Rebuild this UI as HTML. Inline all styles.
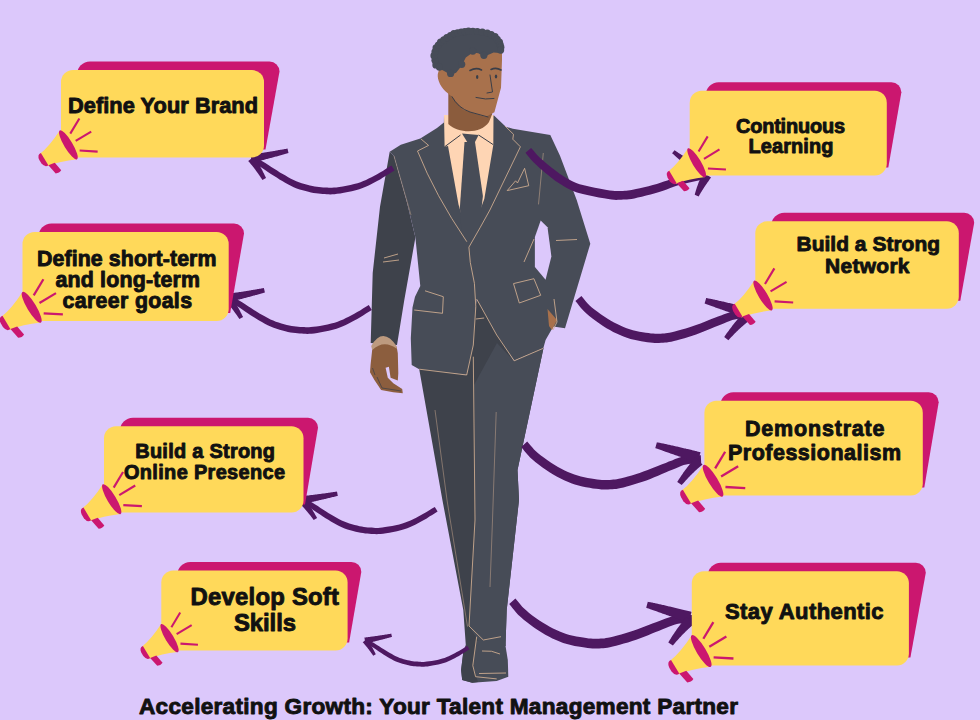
<!DOCTYPE html>
<html><head><meta charset="utf-8"><style>
html,body{margin:0;padding:0;background:#DCC8FB;width:980px;height:720px;overflow:hidden}
svg{display:block}
text{font-family:"Liberation Sans",sans-serif;font-weight:bold;fill:#111;stroke:#111;stroke-width:0.9px;stroke-linejoin:round}
</style></head><body>
<svg width="980" height="720" viewBox="0 0 980 720">
<rect width="980" height="720" fill="#DCC8FB"/>
<g id="man">
<!-- pants back (dark) -->
<path fill="#3E424B" d="M476.7,299 L514,361 L543.5,348 L517.5,470 L519,500 L506.7,610 L505.5,646 L466,648 L463.3,610 L442.4,500 L419,368 L466.7,375 Z"/>
<!-- pants front (light) -->
<path fill="#474C57" d="M497,343 L514,361 L543.5,348 L517.5,470 L519,500 L506.7,610 L505.5,646 L483,648 L469,626 L475,520 L474,385 Z"/>
<!-- shoe -->
<path fill="#474C57" d="M467.2,642 L463.3,652 L461.1,670 L462.2,680 L472.2,682.8 L496.7,681.1 L508.3,676.7 L507.8,660 L504.4,638.9 L483,640 Z"/>
<path fill="#3E424B" d="M467.2,642 L463.3,652 L461.1,670 L462.2,680 L472.2,682.8 L478,682 L472.8,665.6 L476.7,636.7 Z"/>
<!-- left sleeve -->
<path fill="#3E424B" d="M389.7,151.7 L394,156 L406.4,200 L415.4,237.5 L404.3,300 L397,345 L370.7,343 L372.7,273 L380,206.7 Z"/>
<!-- jacket body -->
<path fill="#474C57" d="M389.7,151.7 L400.8,144.7 L420.3,138.5 L437,128 L443.9,122.5 L444,116 L494,115.6 L505.8,126.7 L512.8,128.75 L550.3,135 L560,155.8 L576.7,200 L590.3,243.7 L565,328.3 L553.3,326.4 L545.6,340 L543.3,348.3 L514.2,360.8 L496.7,335 L480,305 L476.7,299.2 L475.8,306.7 L473.3,345 L466.7,375 L419.2,369.2 L411.7,365 L410.8,338.3 L412.5,307.5 L415,296.7 L420.3,286 L415.4,237.5 L406.4,200 L394,156 Z"/>
<path fill="#DCC8FB" d="M540.7,220.4 L547.5,227.2 L551.4,256.4 L545.6,279.7 L534.9,267 L534.9,237 Z"/>
<!-- right hand skin -->
<path fill="#A8714C" d="M547.5,309 L557,320 L552,330 L549,326 Z"/>
<!-- left hand -->
<path fill="#8C5E3E" d="M372.5,347 Q384,336 396.7,347 L397.8,353.3 L398.3,373.3 L397.8,380.6 L390.6,377.8 L388.9,366.7 L385.6,367.8 L387.8,377.8 L393.3,383.3 L402.2,388.9 L402.8,393.3 L393.3,392.2 L381.1,390 L374.4,380 L370,372.2 L370.6,364.4 Z"/>
<path fill="#BD9A7F" d="M371.2,346 Q383,326 396.8,346.5 L396.8,348.8 Q384,339 372.2,350 Z"/>
<g stroke="#3A3E48" stroke-width="0.7" fill="none"><path d="M372.5,368 L375,375"/><path d="M377,377 L382,388 L395,390 L401,391"/></g>
<!-- shirt -->
<path fill="#FED5B4" d="M444,115 L493.5,115 L493.3,145 L484.3,199 L468.9,240 L458.5,204.4 L448,146 L444.6,146.8 Z"/>
<!-- tie -->
<path fill="#474C57" d="M462,133.6 L478.6,135 L474,144 L468.9,144.7 Z"/>
<path fill="#474C57" d="M464.5,142 L475,142 L482.9,196 L478,240 L462,240 L459.9,207 Z"/>
<g stroke="#3A3E48" stroke-width="1" fill="none">
<path d="M460.5,135 L444.6,146.8"/><path d="M478.6,135 L493.3,144.7"/>
</g>
<!-- neck -->
<path fill="#8B5C3D" d="M448.3,90 L494,100 L492,114.4 L489,122 C481,134 459,134 448.3,124 Z"/>
<!-- face -->
<path fill="#A8714C" d="M440,66 L470,52 L502,48 L502,60 L501,87.8 L494.4,112.2 L485.5,117 L463.3,110 L452,96.7 L447.8,93.3 C441,88 437,80 437.8,74 Z"/>
<g stroke="#3A3E48" stroke-width="1" fill="none" stroke-linecap="round">
<path d="M452,96.7 Q458,108 470,112 L488,117"/>
<path d="M470,70.5 Q476,67 481.5,70" stroke-width="1.6"/><path d="M491,69.5 Q496,67 501,70" stroke-width="1.6"/>
<path d="M490,75 L492.5,92 L487,93"/>
<path d="M476,97.5 Q486,100 494,98.5"/>
</g>
<g fill="#3A3E48"><ellipse cx="477.2" cy="77" rx="1.2" ry="2"/><ellipse cx="496" cy="76.5" rx="1.2" ry="2"/></g>
<!-- hair -->
<g fill="#474C57">
<path d="M433.9,65.8 L431.8,56.1 L433.9,47.8 L438.5,41.5 L445.0,36.5 L452.5,32.0 L460.5,30.0 L468.6,29.0 L478.3,29.5 L489.0,31.5 L497.0,35.5 L501.5,41.5 L503.0,47.0 L502.5,53.3 L493.6,52.6 L483.9,56.8 L478.3,53.3 L472.8,52.6 L465.8,57.5 L461.7,65.8 L456.1,72.8 L450.6,74.9 L445.0,71.4 L439.4,68.6Z"/>
<circle cx="435.9" cy="64.9" r="3.6"/><circle cx="435.0" cy="60.3" r="3.6"/><circle cx="434.0" cy="55.7" r="3.6"/><circle cx="435.0" cy="51.8" r="3.6"/><circle cx="436.1" cy="47.9" r="3.6"/><circle cx="438.4" cy="45.0" r="3.6"/><circle cx="440.6" cy="42.1" r="3.6"/><circle cx="443.8" cy="39.9" r="3.6"/><circle cx="446.9" cy="37.6" r="3.6"/><circle cx="450.5" cy="35.6" r="3.6"/><circle cx="453.9" cy="33.7" r="3.6"/><circle cx="457.6" cy="32.9" r="3.6"/><circle cx="461.3" cy="32.1" r="3.6"/><circle cx="464.9" cy="31.7" r="3.6"/><circle cx="468.5" cy="31.2" r="3.6"/><circle cx="472.9" cy="31.4" r="3.6"/><circle cx="477.3" cy="31.5" r="3.6"/><circle cx="482.3" cy="32.2" r="3.6"/><circle cx="487.3" cy="33.0" r="3.6"/><circle cx="491.2" cy="34.7" r="3.6"/><circle cx="495.0" cy="36.5" r="3.6"/><circle cx="497.2" cy="39.3" r="3.6"/><circle cx="499.4" cy="42.0" r="3.6"/><circle cx="500.1" cy="44.6" r="3.6"/><circle cx="500.8" cy="47.2" r="3.6"/><circle cx="500.6" cy="50.1" r="3.6"/><circle cx="483.9" cy="55.3" r="3.6"/><circle cx="472.8" cy="51.1" r="3.6"/><circle cx="461.7" cy="64.3" r="3.6"/><circle cx="450.6" cy="73.4" r="3.6"/><circle cx="439.4" cy="67.1" r="3.6"/>
</g>
<!-- piping -->
<g stroke="#D3B092" stroke-width="0.85" fill="none" stroke-linejoin="round">
<path d="M421,139 L428.6,145.4 L417.5,151 Q435,195 466.8,241.7"/>
<path d="M505,126 L513.5,134.3 L512.8,139.2 L520.4,146.8 L489.9,210 L480,227.8 L468.9,247.2 L470.3,262.5 L474.4,283.3 L475.8,306.7 L473.3,345 L466.7,375 L419.2,369.2"/>
<path d="M476.7,299.2 L480,305 L496.7,335 L514.2,360.8 L543.3,348.3"/>
<path d="M393.9,155.8 L411,215" opacity="0.5"/>
<path d="M425,290.8 L443.3,296.7 L442.5,313.3 L414.2,310"/>
<path d="M513.5,283.6 L533.9,278.7 L540.7,295.3 L519.3,303 Z"/>
<path d="M507.2,190.6 L515.6,180.8 L517.5,183 L524.6,168.3 L528.75,185.7 Z"/>
<path d="M543.3,153 L538.5,204.4" opacity="0.6"/>
<path d="M524,262 L534,239"/>
<path d="M556,240.5 L577,239.5"/>
<path d="M384,258 L398,254"/><path d="M383,262 L399,260"/>
<path d="M473.3,356.7 L475,520 L469,626 L483.3,640 L501,636.7"/>
<path d="M435,410 L447,500 L467.5,626.6" opacity="0.55"/>
<path d="M496.2,412 L492.5,520 L490,587" opacity="0.55"/>
<path d="M476.7,636.7 L472.8,665.6 L475.6,676.7 L496.7,678.9"/>
<path d="M479,673.5 L506,673"/>
<path d="M482,651 Q492,650 500,654"/>
<path d="M475.8,319 L484.2,318"/>
<path d="M554,299 L557,322 L553,330"/>
</g>
</g>
<path fill="#4E1861" d="M391.5,165.6 L388.6,167.3 L385.7,169.1 L382.8,170.9 L380,172.6 L377.1,174.2 L374.3,175.8 L371.5,177.2 L368.7,178.6 L366,179.9 L363.3,181.1 L360.5,182.2 L357.5,183.2 L354.1,184.1 L350.4,184.9 L346.6,185.7 L342.8,186.4 L339.3,186.9 L336.3,187.4 L333.9,187.6 L332,187.8 L330.3,187.8 L328.8,187.7 L327.1,187.6 L325.2,187.5 L323.1,187.4 L321.1,187.2 L319,187 L316.9,186.8 L314.7,186.4 L312.4,186 L309.9,185.4 L307.2,184.8 L304.5,184 L301.7,183.2 L298.9,182.3 L296.3,181.2 L293.6,180 L290.9,178.7 L288.2,177.2 L285.5,175.6 L282.7,174 L279.9,172.4 L277.1,170.6 L274.2,168.8 L271.3,166.9 L268.4,165 L265.7,163.2 L263.2,161.7 L261,160.5 L259.1,159.4 L257.4,158.6 L255.7,157.8 L254.2,157.1 L252.5,156.2 L250,161.3 L251.7,162.1 L253.3,162.9 L254.8,163.7 L256.4,164.5 L258.2,165.5 L260.2,166.7 L262.5,168.2 L265.1,169.9 L267.9,171.9 L270.9,173.9 L273.8,175.8 L276.7,177.6 L279.5,179.4 L282.3,181.1 L285.1,182.7 L287.9,184.3 L290.8,185.8 L293.7,187.2 L296.7,188.4 L299.7,189.4 L302.7,190.3 L305.6,191.1 L308.4,191.8 L311,192.4 L313.5,192.9 L316,193.3 L318.3,193.6 L320.5,193.8 L322.7,194 L324.8,194.1 L326.7,194.2 L328.5,194.3 L330.3,194.4 L332.3,194.3 L334.5,194.2 L337.1,193.8 L340.3,193.4 L343.9,192.8 L347.8,192 L351.8,191.2 L355.7,190.3 L359.3,189.2 L362.6,188.1 L365.7,186.8 L368.6,185.5 L371.5,184.1 L374.3,182.6 L377.1,181 L380.1,179.4 L383,177.6 L385.9,175.8 L388.8,174 L391.6,172.2 L394.5,170.4Z"/><path fill="#4E1861" d="M252.1,162.9 L252.7,162.8 L253.3,162.6 L254,162.4 L254.6,162.3 L255.3,162.1 L255.9,161.9 L256.6,161.7 L257.3,161.6 L257.9,161.4 L258.6,161.2 L259.3,161 L260,160.9 L260.7,160.7 L261.4,160.5 L262.1,160.3 L262.8,160.1 L263.5,159.9 L264.2,159.7 L265,159.5 L265.7,159.3 L266.4,159.1 L267.2,158.9 L267.9,158.7 L268.7,158.5 L269.5,158.3 L270.2,158.1 L271,157.9 L271.8,157.7 L272.6,157.5 L273.4,157.3 L274.1,157 L275,156.8 L275.8,156.6 L276.6,156.4 L277.4,156.2 L278.2,155.9 L279,155.7 L279.9,155.5 L280.7,155.2 L281.6,155 L282.4,154.8 L283.3,154.5 L284.1,154.3 L285,154.1 L285.9,153.8 L286.8,153.6 L287.6,153.3 L288.5,153.1 L287.5,148.5 L286.6,148.7 L285.7,148.9 L284.8,149 L283.9,149.2 L283,149.4 L282.1,149.5 L281.2,149.7 L280.4,149.8 L279.5,150 L278.7,150.1 L277.8,150.3 L277,150.4 L276.1,150.6 L275.3,150.7 L274.5,150.9 L273.7,151 L272.8,151.2 L272,151.3 L271.2,151.4 L270.4,151.6 L269.6,151.7 L268.9,151.8 L268.1,152 L267.3,152.1 L266.5,152.2 L265.8,152.3 L265,152.5 L264.3,152.6 L263.5,152.7 L262.8,152.8 L262,152.9 L261.3,153 L260.6,153.1 L259.9,153.3 L259.2,153.4 L258.5,153.5 L257.8,153.6 L257.1,153.7 L256.4,153.8 L255.7,153.9 L255,154 L254.3,154.1 L253.7,154.1 L253,154.2 L252.4,154.3 L251.7,154.4 L251.1,154.5 L250.4,154.6Z"/><path fill="#4E1861" d="M248.2,161 L248.6,161.4 L248.9,161.7 L249.2,162.1 L249.5,162.5 L249.8,162.8 L250.1,163.2 L250.4,163.6 L250.7,163.9 L251,164.3 L251.3,164.7 L251.7,165 L252,165.4 L252.3,165.8 L252.6,166.2 L252.9,166.6 L253.2,166.9 L253.5,167.3 L253.8,167.7 L254.1,168.1 L254.4,168.5 L254.7,168.9 L255,169.3 L255.3,169.7 L255.6,170.1 L255.8,170.5 L256.1,170.9 L256.4,171.3 L256.7,171.7 L257,172.1 L257.3,172.5 L257.6,172.9 L257.9,173.3 L258.2,173.7 L258.5,174.1 L258.7,174.5 L259,174.9 L259.3,175.3 L259.6,175.7 L259.9,176.2 L260.2,176.6 L260.4,177 L260.7,177.4 L261,177.8 L261.3,178.3 L261.6,178.7 L261.8,179.1 L262.1,179.6 L262.4,180 L266,178 L265.8,177.5 L265.6,177.1 L265.3,176.6 L265.1,176.1 L264.9,175.7 L264.7,175.2 L264.5,174.7 L264.2,174.2 L264,173.8 L263.8,173.3 L263.5,172.9 L263.3,172.4 L263.1,171.9 L262.8,171.5 L262.6,171 L262.4,170.6 L262.1,170.1 L261.9,169.6 L261.7,169.2 L261.4,168.7 L261.2,168.3 L260.9,167.8 L260.7,167.4 L260.4,166.9 L260.2,166.5 L260,166 L259.7,165.6 L259.5,165.2 L259.2,164.7 L259,164.3 L258.7,163.8 L258.5,163.4 L258.2,162.9 L257.9,162.5 L257.7,162.1 L257.4,161.6 L257.2,161.2 L256.9,160.8 L256.7,160.3 L256.4,159.9 L256.1,159.5 L255.9,159 L255.6,158.6 L255.3,158.2 L255.1,157.8 L254.8,157.3 L254.5,156.9 L254.3,156.5Z"/><path fill="#4E1861" d="M368.8,305.1 L365.9,306.8 L363,308.6 L360.1,310.4 L357.2,312.1 L354.3,313.7 L351.5,315.3 L348.7,316.7 L345.9,318.1 L343.2,319.4 L340.4,320.6 L337.6,321.7 L334.6,322.7 L331.2,323.6 L327.5,324.4 L323.7,325.2 L319.9,325.9 L316.3,326.4 L313.3,326.8 L310.9,327.1 L309,327.2 L307.4,327.3 L305.8,327.2 L304.1,327.1 L302.2,327 L300.1,326.9 L298.1,326.7 L296,326.5 L293.9,326.2 L291.7,325.9 L289.3,325.4 L286.8,324.9 L284.1,324.2 L281.4,323.5 L278.6,322.6 L275.9,321.7 L273.2,320.6 L270.5,319.4 L267.8,318.1 L265.1,316.6 L262.3,315 L259.5,313.4 L256.8,311.7 L253.9,310 L251,308.1 L248.1,306.2 L245.2,304.3 L242.5,302.5 L240,301 L237.8,299.7 L235.9,298.7 L234.1,297.8 L232.5,297.1 L230.9,296.3 L229.3,295.5 L226.7,300.5 L228.4,301.4 L230,302.2 L231.6,303 L233.2,303.8 L235,304.8 L237,306 L239.3,307.5 L241.9,309.3 L244.7,311.2 L247.7,313.2 L250.6,315.2 L253.5,317 L256.3,318.7 L259.1,320.4 L261.9,322.1 L264.8,323.7 L267.7,325.2 L270.6,326.6 L273.6,327.8 L276.6,328.8 L279.6,329.8 L282.5,330.6 L285.3,331.3 L287.9,331.9 L290.5,332.4 L292.9,332.8 L295.3,333.1 L297.5,333.3 L299.7,333.5 L301.8,333.6 L303.7,333.7 L305.5,333.8 L307.3,333.9 L309.3,333.8 L311.5,333.7 L314.2,333.4 L317.3,332.9 L321,332.3 L324.9,331.6 L328.9,330.7 L332.8,329.8 L336.5,328.8 L339.8,327.6 L342.9,326.3 L345.8,325 L348.7,323.6 L351.5,322.1 L354.3,320.6 L357.3,318.9 L360.2,317.2 L363.1,315.4 L366,313.5 L368.9,311.7 L371.8,309.9Z"/><path fill="#4E1861" d="M228.8,302.2 L229.4,302 L230,301.9 L230.7,301.7 L231.3,301.5 L232,301.4 L232.6,301.2 L233.3,301 L233.9,300.9 L234.6,300.7 L235.3,300.5 L236,300.3 L236.6,300.2 L237.3,300 L238,299.8 L238.7,299.6 L239.4,299.4 L240.1,299.3 L240.9,299.1 L241.6,298.9 L242.3,298.7 L243,298.5 L243.8,298.3 L244.5,298.1 L245.3,297.9 L246,297.7 L246.8,297.5 L247.6,297.3 L248.3,297.1 L249.1,296.9 L249.9,296.7 L250.7,296.5 L251.5,296.2 L252.3,296 L253.1,295.8 L253.9,295.6 L254.7,295.4 L255.5,295.1 L256.3,294.9 L257.2,294.7 L258,294.5 L258.9,294.2 L259.7,294 L260.6,293.8 L261.4,293.5 L262.3,293.3 L263.2,293.1 L264,292.8 L264.9,292.6 L263.9,288 L263,288.2 L262.1,288.3 L261.2,288.5 L260.3,288.7 L259.4,288.8 L258.6,289 L257.7,289.1 L256.9,289.3 L256,289.4 L255.2,289.6 L254.3,289.7 L253.5,289.8 L252.7,290 L251.8,290.1 L251,290.3 L250.2,290.4 L249.4,290.5 L248.6,290.7 L247.8,290.8 L247,290.9 L246.2,291.1 L245.4,291.2 L244.7,291.3 L243.9,291.4 L243.1,291.5 L242.4,291.7 L241.6,291.8 L240.9,291.9 L240.2,292 L239.4,292.1 L238.7,292.2 L238,292.3 L237.3,292.4 L236.5,292.5 L235.8,292.6 L235.1,292.7 L234.5,292.8 L233.8,292.9 L233.1,293 L232.4,293.1 L231.7,293.2 L231.1,293.3 L230.4,293.4 L229.8,293.5 L229.1,293.6 L228.5,293.6 L227.8,293.7 L227.2,293.8Z"/><path fill="#4E1861" d="M225,300.3 L225.3,300.7 L225.7,301 L226,301.4 L226.3,301.7 L226.6,302.1 L226.9,302.5 L227.2,302.8 L227.5,303.2 L227.9,303.6 L228.2,303.9 L228.5,304.3 L228.8,304.7 L229.1,305.1 L229.4,305.4 L229.7,305.8 L230,306.2 L230.3,306.6 L230.6,307 L230.9,307.3 L231.3,307.7 L231.6,308.1 L231.9,308.5 L232.2,308.9 L232.5,309.3 L232.8,309.7 L233.1,310.1 L233.4,310.5 L233.7,310.9 L234,311.3 L234.2,311.7 L234.5,312.1 L234.8,312.5 L235.1,312.9 L235.4,313.3 L235.7,313.7 L236,314.1 L236.3,314.5 L236.6,314.9 L236.9,315.3 L237.2,315.7 L237.5,316.2 L237.7,316.6 L238,317 L238.3,317.4 L238.6,317.8 L238.9,318.3 L239.2,318.7 L239.4,319.1 L243.1,317.1 L242.8,316.6 L242.6,316.1 L242.4,315.7 L242.1,315.2 L241.9,314.7 L241.7,314.3 L241.4,313.8 L241.2,313.3 L241,312.9 L240.7,312.4 L240.5,312 L240.3,311.5 L240,311 L239.8,310.6 L239.6,310.1 L239.3,309.7 L239.1,309.2 L238.8,308.8 L238.6,308.3 L238.3,307.9 L238.1,307.4 L237.8,307 L237.6,306.5 L237.3,306.1 L237.1,305.6 L236.8,305.2 L236.6,304.7 L236.3,304.3 L236.1,303.9 L235.8,303.4 L235.5,303 L235.3,302.5 L235,302.1 L234.8,301.7 L234.5,301.2 L234.2,300.8 L234,300.4 L233.7,299.9 L233.4,299.5 L233.2,299.1 L232.9,298.7 L232.6,298.2 L232.4,297.8 L232.1,297.4 L231.8,297 L231.5,296.5 L231.3,296.1 L231,295.7Z"/><path fill="#4E1861" d="M434.8,506.9 L432,508.6 L429.3,510.3 L426.5,511.9 L423.8,513.6 L421.1,515.1 L418.4,516.5 L415.7,517.9 L413.1,519.2 L410.5,520.5 L407.9,521.6 L405.2,522.6 L402.4,523.6 L399.2,524.4 L395.7,525.2 L392.1,526 L388.5,526.6 L385.1,527.1 L382.3,527.5 L380,527.8 L378.2,527.9 L376.6,527.9 L375.2,527.9 L373.6,527.8 L371.7,527.6 L369.8,527.5 L367.8,527.4 L365.9,527.2 L363.9,526.9 L361.8,526.6 L359.6,526.2 L357.2,525.6 L354.6,525 L352,524.3 L349.4,523.5 L346.8,522.6 L344.2,521.6 L341.7,520.5 L339.2,519.2 L336.6,517.8 L334,516.3 L331.4,514.7 L328.7,513.2 L326.1,511.5 L323.3,509.8 L320.5,507.9 L317.8,506.1 L315.2,504.5 L312.9,503 L310.8,501.8 L309,500.9 L307.3,500 L305.8,499.3 L304.3,498.6 L302.7,497.8 L300.3,502.6 L301.9,503.4 L303.4,504.2 L304.9,504.9 L306.4,505.7 L308.1,506.6 L310,507.8 L312.2,509.2 L314.7,510.9 L317.3,512.7 L320.1,514.6 L322.9,516.5 L325.6,518.2 L328.3,519.8 L330.9,521.4 L333.6,523 L336.3,524.6 L339.1,526 L341.8,527.3 L344.6,528.4 L347.5,529.4 L350.3,530.3 L353.1,531 L355.7,531.7 L358.2,532.3 L360.7,532.8 L363,533.1 L365.2,533.4 L367.3,533.6 L369.4,533.8 L371.3,533.9 L373.2,534 L374.9,534.1 L376.6,534.2 L378.4,534.1 L380.6,534 L383.1,533.7 L386.1,533.2 L389.5,532.7 L393.2,532 L397,531.2 L400.7,530.3 L404.2,529.3 L407.3,528.2 L410.2,527 L413,525.8 L415.7,524.4 L418.4,523 L421.1,521.6 L423.9,520 L426.7,518.4 L429.4,516.6 L432.2,514.9 L434.9,513.2 L437.6,511.5Z"/><path fill="#4E1861" d="M302.1,504.2 L302.7,504.1 L303.4,503.9 L304,503.8 L304.6,503.6 L305.3,503.5 L305.9,503.3 L306.6,503.2 L307.2,503.1 L307.9,502.9 L308.5,502.8 L309.2,502.6 L309.9,502.5 L310.6,502.3 L311.3,502.1 L311.9,502 L312.6,501.8 L313.3,501.7 L314.1,501.5 L314.8,501.3 L315.5,501.2 L316.2,501 L316.9,500.8 L317.7,500.7 L318.4,500.5 L319.2,500.3 L319.9,500.1 L320.7,500 L321.4,499.8 L322.2,499.6 L323,499.4 L323.8,499.2 L324.5,499.1 L325.3,498.9 L326.1,498.7 L326.9,498.5 L327.7,498.3 L328.5,498.1 L329.4,497.9 L330.2,497.7 L331,497.5 L331.8,497.3 L332.7,497.1 L333.5,496.9 L334.4,496.7 L335.2,496.5 L336.1,496.3 L337,496.1 L337.8,495.9 L337,491.5 L336.1,491.7 L335.2,491.8 L334.3,491.9 L333.5,492.1 L332.6,492.2 L331.8,492.3 L330.9,492.4 L330.1,492.6 L329.2,492.7 L328.4,492.8 L327.6,492.9 L326.7,493 L325.9,493.2 L325.1,493.3 L324.3,493.4 L323.5,493.5 L322.7,493.6 L321.9,493.7 L321.1,493.8 L320.4,493.9 L319.6,494 L318.8,494.1 L318.1,494.2 L317.3,494.3 L316.5,494.4 L315.8,494.5 L315.1,494.6 L314.3,494.7 L313.6,494.8 L312.9,494.9 L312.2,495 L311.5,495.1 L310.8,495.1 L310.1,495.2 L309.4,495.3 L308.7,495.4 L308,495.5 L307.3,495.5 L306.6,495.6 L306,495.7 L305.3,495.8 L304.7,495.8 L304,495.9 L303.4,496 L302.7,496 L302.1,496.1 L301.5,496.2 L300.9,496.2Z"/><path fill="#4E1861" d="M298.8,502.5 L299.1,502.9 L299.5,503.2 L299.8,503.5 L300.1,503.9 L300.4,504.2 L300.8,504.5 L301.1,504.9 L301.4,505.2 L301.7,505.6 L302,505.9 L302.4,506.2 L302.7,506.6 L303,506.9 L303.3,507.3 L303.6,507.6 L304,508 L304.3,508.3 L304.6,508.7 L304.9,509.1 L305.2,509.4 L305.5,509.8 L305.8,510.1 L306.2,510.5 L306.5,510.9 L306.8,511.2 L307.1,511.6 L307.4,512 L307.7,512.3 L308,512.7 L308.3,513.1 L308.6,513.5 L308.9,513.8 L309.2,514.2 L309.6,514.6 L309.9,515 L310.2,515.3 L310.5,515.7 L310.8,516.1 L311.1,516.5 L311.4,516.9 L311.7,517.3 L312,517.7 L312.3,518.1 L312.6,518.5 L312.9,518.9 L313.2,519.3 L313.5,519.7 L313.7,520.1 L317.1,517.9 L316.8,517.5 L316.6,517.1 L316.3,516.6 L316.1,516.2 L315.8,515.7 L315.6,515.3 L315.3,514.9 L315.1,514.4 L314.8,514 L314.6,513.5 L314.3,513.1 L314.1,512.7 L313.8,512.2 L313.5,511.8 L313.3,511.4 L313,511 L312.8,510.5 L312.5,510.1 L312.2,509.7 L312,509.3 L311.7,508.8 L311.4,508.4 L311.2,508 L310.9,507.6 L310.6,507.2 L310.4,506.7 L310.1,506.3 L309.8,505.9 L309.6,505.5 L309.3,505.1 L309,504.7 L308.7,504.3 L308.5,503.9 L308.2,503.5 L307.9,503 L307.6,502.6 L307.3,502.2 L307.1,501.8 L306.8,501.4 L306.5,501 L306.2,500.6 L305.9,500.2 L305.6,499.8 L305.4,499.4 L305.1,499.1 L304.8,498.7 L304.5,498.3 L304.2,497.9Z"/><path fill="#4E1861" d="M467.3,645.8 L465.2,647.1 L463.1,648.4 L461,649.7 L458.9,650.9 L456.8,652.1 L454.7,653.2 L452.7,654.3 L450.7,655.3 L448.7,656.2 L446.7,657.1 L444.6,657.9 L442.4,658.6 L440,659.3 L437.3,659.9 L434.5,660.4 L431.7,660.9 L429.1,661.3 L426.9,661.6 L425.2,661.8 L423.8,661.9 L422.6,661.9 L421.5,661.9 L420.3,661.8 L418.9,661.7 L417.3,661.6 L415.8,661.5 L414.3,661.4 L412.8,661.2 L411.2,660.9 L409.5,660.6 L407.7,660.2 L405.7,659.7 L403.7,659.2 L401.7,658.5 L399.7,657.9 L397.7,657.1 L395.8,656.2 L393.8,655.2 L391.9,654.1 L389.9,653 L387.8,651.8 L385.8,650.6 L383.8,649.3 L381.6,648 L379.5,646.6 L377.4,645.2 L375.4,643.9 L373.6,642.8 L372,641.9 L370.6,641.1 L369.4,640.5 L368.2,639.9 L367,639.4 L365.8,638.8 L364,642.4 L365.2,643.1 L366.4,643.7 L367.5,644.2 L368.7,644.8 L370,645.5 L371.4,646.4 L373.1,647.5 L375,648.8 L377.1,650.2 L379.2,651.7 L381.3,653.1 L383.4,654.4 L385.5,655.7 L387.5,656.9 L389.6,658.2 L391.6,659.3 L393.7,660.4 L395.9,661.4 L398,662.3 L400.2,663.1 L402.4,663.7 L404.5,664.3 L406.5,664.8 L408.5,665.3 L410.3,665.7 L412.1,666 L413.8,666.2 L415.4,666.3 L417,666.4 L418.6,666.5 L420,666.6 L421.3,666.7 L422.6,666.7 L424,666.7 L425.6,666.6 L427.6,666.4 L429.9,666 L432.5,665.6 L435.4,665.1 L438.3,664.5 L441.1,663.8 L443.8,663 L446.2,662.2 L448.4,661.3 L450.6,660.3 L452.6,659.3 L454.7,658.2 L456.8,657.1 L458.9,655.9 L461.1,654.6 L463.2,653.3 L465.3,652 L467.4,650.6 L469.5,649.4Z"/><path fill="#4E1861" d="M365.4,643.7 L365.9,643.5 L366.4,643.4 L366.8,643.3 L367.3,643.2 L367.8,643.1 L368.2,643 L368.7,642.9 L369.2,642.7 L369.7,642.6 L370.2,642.5 L370.7,642.4 L371.2,642.3 L371.7,642.1 L372.2,642 L372.7,641.9 L373.2,641.7 L373.8,641.6 L374.3,641.5 L374.8,641.4 L375.4,641.2 L375.9,641.1 L376.4,640.9 L377,640.8 L377.5,640.7 L378.1,640.5 L378.6,640.4 L379.2,640.2 L379.8,640.1 L380.3,640 L380.9,639.8 L381.5,639.7 L382.1,639.5 L382.7,639.4 L383.3,639.2 L383.9,639.1 L384.5,638.9 L385.1,638.8 L385.7,638.6 L386.3,638.4 L386.9,638.3 L387.5,638.1 L388.1,638 L388.8,637.8 L389.4,637.6 L390,637.5 L390.7,637.3 L391.3,637.1 L392,637 L391.2,633.6 L390.6,633.7 L389.9,633.9 L389.3,634 L388.6,634.1 L388,634.2 L387.4,634.3 L386.7,634.4 L386.1,634.5 L385.5,634.6 L384.8,634.7 L384.2,634.8 L383.6,634.9 L383,635 L382.4,635.1 L381.8,635.2 L381.2,635.3 L380.6,635.3 L380,635.4 L379.5,635.5 L378.9,635.6 L378.3,635.7 L377.7,635.8 L377.2,635.9 L376.6,636 L376,636 L375.5,636.1 L374.9,636.2 L374.4,636.3 L373.9,636.3 L373.3,636.4 L372.8,636.5 L372.3,636.6 L371.7,636.6 L371.2,636.7 L370.7,636.8 L370.2,636.8 L369.7,636.9 L369.2,637 L368.7,637 L368.2,637.1 L367.7,637.2 L367.2,637.2 L366.7,637.3 L366.2,637.3 L365.8,637.4 L365.3,637.4 L364.8,637.5 L364.4,637.5Z"/><path fill="#4E1861" d="M362.7,642.3 L363,642.5 L363.2,642.8 L363.4,643.1 L363.7,643.3 L363.9,643.6 L364.1,643.8 L364.3,644.1 L364.6,644.4 L364.8,644.6 L365,644.9 L365.2,645.1 L365.5,645.4 L365.7,645.7 L365.9,646 L366.1,646.2 L366.4,646.5 L366.6,646.8 L366.8,647 L367,647.3 L367.3,647.6 L367.5,647.9 L367.7,648.1 L367.9,648.4 L368.1,648.7 L368.3,649 L368.6,649.3 L368.8,649.5 L369,649.8 L369.2,650.1 L369.4,650.4 L369.6,650.7 L369.9,651 L370.1,651.3 L370.3,651.6 L370.5,651.9 L370.7,652.1 L370.9,652.4 L371.1,652.7 L371.3,653 L371.5,653.3 L371.7,653.6 L372,653.9 L372.2,654.2 L372.4,654.5 L372.6,654.8 L372.8,655.1 L373,655.4 L373.2,655.7 L375.8,654.3 L375.6,653.9 L375.5,653.6 L375.3,653.2 L375.1,652.9 L375,652.6 L374.8,652.2 L374.6,651.9 L374.5,651.6 L374.3,651.2 L374.1,650.9 L374,650.6 L373.8,650.2 L373.6,649.9 L373.4,649.6 L373.3,649.3 L373.1,648.9 L372.9,648.6 L372.7,648.3 L372.6,648 L372.4,647.6 L372.2,647.3 L372,647 L371.8,646.7 L371.7,646.3 L371.5,646 L371.3,645.7 L371.1,645.4 L370.9,645.1 L370.7,644.8 L370.6,644.4 L370.4,644.1 L370.2,643.8 L370,643.5 L369.8,643.2 L369.6,642.9 L369.4,642.6 L369.2,642.3 L369,642 L368.8,641.6 L368.6,641.3 L368.4,641 L368.3,640.7 L368.1,640.4 L367.9,640.1 L367.7,639.8 L367.5,639.5 L367.3,639.2 L367.1,638.9Z"/><path fill="#4E1861" d="M525.5,152.8 L526.8,154.4 L528,156 L529.3,157.6 L530.7,159.2 L532.3,161 L534,162.8 L535.9,164.6 L538,166.5 L540.1,168.4 L542.3,170.3 L544.5,172.2 L546.7,173.9 L548.7,175.6 L550.7,177.2 L552.7,178.8 L554.8,180.4 L557.1,182 L559.5,183.5 L561.9,185 L564.2,186.5 L566.8,188 L569.8,189.6 L573.1,191 L577,192.4 L581.8,193.7 L587.2,195 L593.1,196.3 L598.8,197.4 L604,198.3 L608.3,199 L611.5,199.5 L614.1,199.8 L616.2,199.9 L618,199.8 L619.6,199.8 L621.3,199.7 L623.2,199.6 L625,199.6 L626.9,199.5 L629,199.3 L631.5,198.9 L634.3,198.4 L637.8,197.6 L641.8,196.7 L646.2,195.6 L650.6,194.5 L655,193.2 L659.2,192 L663.1,190.8 L666.7,189.5 L670.3,188.1 L673.7,186.8 L677.3,185.6 L681,184.5 L685.1,183.4 L689.4,182.5 L693.9,181.5 L698.5,180.6 L703.2,179.6 L707.7,178.7 L706.3,171.3 L701.7,172.2 L697.1,173 L692.4,173.9 L687.8,174.7 L683.3,175.7 L679,176.7 L674.9,177.9 L671,179.1 L667.4,180.4 L663.9,181.6 L660.4,182.8 L656.8,184 L652.8,185 L648.5,186.2 L644.1,187.3 L639.9,188.3 L636,189.1 L632.7,189.8 L630,190.3 L628,190.6 L626.2,190.8 L624.7,190.8 L623,190.9 L621.1,190.9 L619.2,191 L617.7,191.1 L616.3,191.1 L614.8,191 L612.7,190.8 L609.7,190.4 L605.5,189.7 L600.4,188.8 L594.8,187.7 L589.1,186.5 L583.9,185.3 L579.6,184.2 L576.2,183 L573.4,181.8 L570.9,180.6 L568.6,179.3 L566.3,177.9 L563.9,176.5 L561.7,175.1 L559.6,173.7 L557.7,172.3 L555.7,170.8 L553.8,169.3 L551.7,167.7 L549.6,166 L547.4,164.2 L545.3,162.4 L543.2,160.6 L541.2,158.9 L539.4,157.2 L537.9,155.7 L536.5,154.2 L535.2,152.7 L533.9,151.1 L532.5,149.6 L531.1,148Z"/><path fill="#4E1861" d="M709.3,171.4 L708.4,170.9 L707.5,170.4 L706.6,169.9 L705.7,169.4 L704.9,168.9 L704,168.4 L703.1,167.9 L702.3,167.4 L701.4,166.9 L700.6,166.4 L699.8,166 L699,165.5 L698.2,165 L697.4,164.5 L696.6,164.1 L695.8,163.6 L695,163.1 L694.2,162.7 L693.5,162.2 L692.7,161.8 L692,161.3 L691.2,160.9 L690.5,160.4 L689.8,160 L689,159.5 L688.3,159.1 L687.6,158.7 L686.9,158.2 L686.2,157.8 L685.5,157.4 L684.9,156.9 L684.2,156.5 L683.5,156.1 L682.9,155.7 L682.2,155.3 L681.6,154.9 L681,154.5 L680.3,154.1 L679.7,153.7 L679.1,153.3 L678.5,152.9 L677.9,152.5 L677.3,152.1 L676.7,151.7 L676.2,151.3 L675.6,151 L675,150.6 L674.5,150.2 L672.1,153.2 L672.6,153.7 L673.1,154.1 L673.6,154.6 L674.2,155.1 L674.7,155.5 L675.2,156 L675.8,156.5 L676.3,157 L676.9,157.4 L677.5,157.9 L678,158.4 L678.6,158.9 L679.2,159.4 L679.8,159.9 L680.4,160.4 L681.1,160.9 L681.7,161.4 L682.3,161.9 L682.9,162.4 L683.6,162.9 L684.2,163.5 L684.9,164 L685.6,164.5 L686.2,165 L686.9,165.6 L687.6,166.1 L688.3,166.6 L689,167.2 L689.7,167.7 L690.5,168.3 L691.2,168.8 L691.9,169.4 L692.7,169.9 L693.4,170.5 L694.2,171 L694.9,171.6 L695.7,172.2 L696.5,172.7 L697.3,173.3 L698.1,173.9 L698.9,174.5 L699.7,175 L700.5,175.6 L701.4,176.2 L702.2,176.8 L703,177.4 L703.9,178 L704.7,178.6Z"/><path fill="#4E1861" d="M702.9,172.6 L702.7,173.1 L702.4,173.6 L702.2,174.2 L701.9,174.7 L701.7,175.2 L701.5,175.7 L701.3,176.2 L701,176.7 L700.8,177.2 L700.6,177.7 L700.4,178.2 L700.2,178.7 L700,179.2 L699.8,179.7 L699.6,180.2 L699.4,180.7 L699.2,181.2 L699,181.6 L698.8,182.1 L698.6,182.6 L698.4,183.1 L698.3,183.5 L698.1,184 L697.9,184.5 L697.8,184.9 L697.6,185.4 L697.4,185.8 L697.3,186.3 L697.1,186.7 L696.9,187.2 L696.8,187.6 L696.7,188.1 L696.5,188.5 L696.4,189 L696.2,189.4 L696.1,189.8 L696,190.3 L695.8,190.7 L695.7,191.1 L695.6,191.5 L695.5,192 L695.3,192.4 L695.2,192.8 L695.1,193.2 L695,193.6 L694.9,194 L694.8,194.4 L694.7,194.8 L698.7,196.4 L698.9,196 L699.1,195.7 L699.3,195.3 L699.5,195 L699.7,194.6 L699.9,194.3 L700.1,193.9 L700.3,193.6 L700.5,193.2 L700.7,192.8 L701,192.5 L701.2,192.1 L701.4,191.7 L701.6,191.4 L701.9,191 L702.1,190.6 L702.3,190.2 L702.6,189.9 L702.8,189.5 L703.1,189.1 L703.3,188.7 L703.6,188.3 L703.8,187.9 L704.1,187.5 L704.3,187.1 L704.6,186.7 L704.9,186.3 L705.1,185.9 L705.4,185.5 L705.7,185.1 L706,184.7 L706.2,184.3 L706.5,183.9 L706.8,183.5 L707.1,183.1 L707.4,182.6 L707.7,182.2 L708,181.8 L708.3,181.4 L708.6,180.9 L708.9,180.5 L709.2,180.1 L709.5,179.6 L709.8,179.2 L710.1,178.7 L710.5,178.3 L710.8,177.8 L711.1,177.4Z"/><path fill="#4E1861" d="M575.4,301.1 L577.1,303.1 L578.6,305 L580.1,307 L581.9,309.1 L584,311.3 L586.4,313.6 L589.3,316 L592.5,318.5 L595.9,321.1 L599.4,323.6 L603,326 L606.5,328.2 L609.9,330.1 L613.2,331.9 L616.6,333.6 L620,335.1 L623.5,336.5 L626.9,337.8 L630.5,338.9 L634.1,339.8 L637.7,340.6 L641.2,341.2 L644.4,341.7 L647.3,342.2 L650,342.5 L652.5,342.8 L654.8,342.9 L656.9,342.9 L659,342.9 L661.1,342.8 L663.1,342.7 L665,342.6 L666.9,342.4 L669,342.1 L671.3,341.7 L674,341.1 L677.1,340.3 L680.6,339.3 L684.5,338.2 L688.4,337 L692.3,335.8 L696.1,334.5 L699.9,333.1 L703.7,331.6 L707.4,330 L711.1,328.5 L714.6,327.1 L717.9,325.7 L721.1,324.4 L724.2,323.2 L727,322 L729.7,321 L732.3,320.1 L734.7,319.4 L737,319 L739.3,318.7 L741.6,318.6 L744.1,318.6 L746.6,318.5 L749.1,318.4 L748.9,310.6 L746.4,310.7 L744,310.7 L741.5,310.6 L738.8,310.7 L735.9,311 L733,311.4 L729.9,312.2 L727,313.2 L724,314.2 L721,315.4 L718,316.6 L714.8,317.8 L711.4,319.1 L707.8,320.5 L704.2,321.9 L700.5,323.4 L696.8,324.8 L693.2,326 L689.6,327.2 L685.7,328.4 L681.9,329.5 L678.2,330.5 L674.8,331.4 L671.8,332.2 L669.4,332.7 L667.4,333.1 L665.8,333.3 L664.2,333.5 L662.6,333.6 L660.7,333.7 L658.8,333.7 L656.9,333.8 L655.1,333.7 L653.2,333.6 L651,333.4 L648.6,333.1 L645.8,332.7 L642.7,332.2 L639.4,331.7 L636.1,331 L632.9,330.2 L629.7,329.3 L626.6,328.2 L623.5,326.9 L620.3,325.6 L617.2,324.1 L614,322.5 L610.9,320.7 L607.6,318.8 L604.2,316.6 L600.8,314.2 L597.5,311.8 L594.4,309.5 L591.8,307.4 L589.6,305.5 L587.9,303.7 L586.3,301.9 L584.7,300 L583.1,298 L581.4,296.1Z"/><path fill="#4E1861" d="M748.6,307.8 L747.5,307.5 L746.4,307.2 L745.4,306.9 L744.3,306.7 L743.3,306.4 L742.2,306.2 L741.2,305.9 L740.2,305.7 L739.1,305.4 L738.1,305.2 L737.1,304.9 L736.1,304.7 L735.2,304.4 L734.2,304.2 L733.2,304 L732.3,303.8 L731.3,303.5 L730.4,303.3 L729.4,303.1 L728.5,302.9 L727.6,302.7 L726.7,302.4 L725.8,302.2 L724.9,302 L724,301.8 L723.2,301.6 L722.3,301.4 L721.4,301.2 L720.6,301.1 L719.8,300.9 L718.9,300.7 L718.1,300.5 L717.3,300.3 L716.5,300.1 L715.7,300 L714.9,299.8 L714.1,299.6 L713.4,299.5 L712.6,299.3 L711.9,299.1 L711.1,299 L710.4,298.8 L709.7,298.7 L709,298.5 L708.2,298.4 L707.5,298.3 L706.9,298.1 L706.2,298 L704.6,303.6 L705.3,303.8 L705.9,304.1 L706.6,304.3 L707.3,304.6 L708,304.8 L708.7,305 L709.4,305.3 L710.1,305.5 L710.8,305.8 L711.5,306.1 L712.3,306.3 L713,306.6 L713.8,306.8 L714.5,307.1 L715.3,307.4 L716.1,307.7 L716.9,307.9 L717.7,308.2 L718.5,308.5 L719.3,308.8 L720.1,309.1 L720.9,309.4 L721.8,309.6 L722.6,309.9 L723.5,310.2 L724.3,310.5 L725.2,310.9 L726.1,311.2 L727,311.5 L727.9,311.8 L728.8,312.1 L729.7,312.4 L730.6,312.7 L731.6,313.1 L732.5,313.4 L733.5,313.7 L734.4,314.1 L735.4,314.4 L736.4,314.7 L737.4,315.1 L738.4,315.4 L739.4,315.8 L740.4,316.1 L741.4,316.5 L742.4,316.8 L743.5,317.2 L744.5,317.6 L745.6,317.9Z"/><path fill="#4E1861" d="M743.8,312.6 L743.4,313.1 L743,313.5 L742.5,314 L742.1,314.4 L741.7,314.9 L741.2,315.3 L740.8,315.8 L740.4,316.3 L740,316.8 L739.5,317.2 L739.1,317.7 L738.7,318.2 L738.3,318.7 L737.8,319.1 L737.4,319.6 L737,320.1 L736.6,320.6 L736.2,321.1 L735.8,321.6 L735.3,322.1 L734.9,322.6 L734.5,323.1 L734.1,323.6 L733.7,324.1 L733.3,324.6 L732.9,325.1 L732.5,325.6 L732.1,326.1 L731.7,326.7 L731.3,327.2 L730.9,327.7 L730.5,328.2 L730.1,328.8 L729.7,329.3 L729.3,329.8 L728.9,330.4 L728.5,330.9 L728.1,331.4 L727.7,332 L727.3,332.5 L726.9,333.1 L726.5,333.6 L726.1,334.2 L725.7,334.7 L725.4,335.3 L725,335.8 L724.6,336.4 L724.2,337 L728.4,340.2 L728.8,339.7 L729.3,339.2 L729.7,338.8 L730.2,338.3 L730.6,337.8 L731.1,337.3 L731.5,336.8 L732,336.4 L732.4,335.9 L732.9,335.4 L733.3,335 L733.8,334.5 L734.2,334 L734.7,333.6 L735.1,333.1 L735.6,332.7 L736,332.2 L736.5,331.8 L736.9,331.3 L737.4,330.9 L737.8,330.5 L738.3,330 L738.7,329.6 L739.2,329.2 L739.6,328.8 L740.1,328.3 L740.6,327.9 L741,327.5 L741.5,327.1 L741.9,326.7 L742.4,326.3 L742.9,325.9 L743.3,325.5 L743.8,325.1 L744.2,324.7 L744.7,324.3 L745.2,323.9 L745.6,323.5 L746.1,323.1 L746.5,322.8 L747,322.4 L747.5,322 L747.9,321.6 L748.4,321.3 L748.9,320.9 L749.3,320.5 L749.8,320.2 L750.3,319.8Z"/><path fill="#4E1861" d="M521.2,447 L522.9,448.9 L524.4,450.9 L526.1,452.9 L527.9,455.1 L530.1,457.4 L532.7,459.7 L535.6,462.2 L538.9,464.8 L542.5,467.4 L546.2,470 L549.9,472.5 L553.6,474.7 L557.1,476.7 L560.6,478.5 L564.1,480.2 L567.7,481.8 L571.2,483.2 L574.8,484.4 L578.5,485.5 L582.3,486.5 L586,487.2 L589.6,487.8 L592.9,488.4 L596,488.8 L598.8,489.1 L601.3,489.4 L603.7,489.5 L605.9,489.5 L608.1,489.4 L610.2,489.3 L612.3,489.2 L614.3,489.1 L616.3,488.9 L618.4,488.5 L620.8,488 L623.5,487.4 L626.8,486.5 L630.4,485.5 L634.4,484.3 L638.4,483.1 L642.5,481.7 L646.4,480.4 L650.3,478.9 L654.2,477.3 L658.1,475.7 L661.9,474.1 L665.5,472.5 L668.9,471.1 L672.2,469.7 L675.4,468.4 L678.3,467.2 L681.1,466.1 L683.7,465.1 L686.2,464.4 L688.6,463.9 L691,463.7 L693.4,463.5 L695.9,463.5 L698.5,463.4 L701.2,463.2 L700.8,455.2 L698.3,455.3 L695.8,455.3 L693.2,455.3 L690.4,455.4 L687.5,455.6 L684.4,456.2 L681.2,457 L678.2,458 L675.1,459.1 L672.1,460.4 L668.9,461.6 L665.7,462.9 L662.1,464.3 L658.4,465.8 L654.6,467.3 L650.8,468.8 L647,470.3 L643.4,471.6 L639.6,472.9 L635.6,474.2 L631.7,475.4 L627.9,476.5 L624.3,477.4 L621.3,478.2 L618.8,478.8 L616.7,479.2 L615,479.5 L613.4,479.6 L611.7,479.8 L609.8,479.9 L607.7,479.9 L605.8,480 L603.9,480 L601.9,479.9 L599.7,479.7 L597.2,479.4 L594.3,479 L591.1,478.5 L587.7,478 L584.3,477.3 L580.9,476.5 L577.6,475.6 L574.4,474.5 L571.1,473.2 L567.9,471.9 L564.6,470.4 L561.3,468.7 L558,466.9 L554.7,464.9 L551.1,462.7 L547.5,460.3 L544.1,457.8 L540.9,455.5 L538.1,453.3 L535.9,451.3 L534,449.5 L532.4,447.6 L530.8,445.7 L529.1,443.7 L527.2,441.6Z"/><path fill="#4E1861" d="M700.6,452.2 L699.4,451.9 L698.3,451.7 L697.2,451.4 L696.1,451.1 L695.1,450.9 L694,450.6 L692.9,450.4 L691.9,450.1 L690.8,449.8 L689.8,449.6 L688.7,449.3 L687.7,449.1 L686.7,448.9 L685.7,448.6 L684.7,448.4 L683.7,448.2 L682.8,447.9 L681.8,447.7 L680.8,447.5 L679.9,447.3 L678.9,447 L678,446.8 L677.1,446.6 L676.2,446.4 L675.3,446.2 L674.4,446 L673.5,445.8 L672.6,445.6 L671.7,445.4 L670.9,445.2 L670,445 L669.2,444.8 L668.3,444.7 L667.5,444.5 L666.7,444.3 L665.9,444.1 L665.1,444 L664.3,443.8 L663.5,443.6 L662.8,443.5 L662,443.3 L661.2,443.2 L660.5,443 L659.8,442.8 L659,442.7 L658.3,442.6 L657.6,442.4 L656.9,442.3 L655.3,448.1 L656,448.4 L656.7,448.6 L657.3,448.8 L658,449.1 L658.7,449.3 L659.5,449.6 L660.2,449.8 L660.9,450.1 L661.7,450.3 L662.4,450.6 L663.2,450.9 L663.9,451.1 L664.7,451.4 L665.5,451.7 L666.3,452 L667.1,452.2 L667.9,452.5 L668.7,452.8 L669.5,453.1 L670.4,453.4 L671.2,453.7 L672.1,454 L673,454.3 L673.8,454.6 L674.7,454.9 L675.6,455.2 L676.5,455.5 L677.4,455.8 L678.3,456.2 L679.3,456.5 L680.2,456.8 L681.1,457.1 L682.1,457.5 L683,457.8 L684,458.1 L685,458.5 L686,458.8 L687,459.2 L688,459.5 L689,459.9 L690,460.2 L691.1,460.6 L692.1,460.9 L693.2,461.3 L694.2,461.7 L695.3,462 L696.4,462.4 L697.4,462.8Z"/><path fill="#4E1861" d="M695.5,457.4 L695.1,457.8 L694.7,458.3 L694.3,458.8 L693.9,459.2 L693.5,459.7 L693.1,460.1 L692.7,460.6 L692.3,461.1 L691.9,461.6 L691.5,462 L691.1,462.5 L690.7,463 L690.3,463.5 L689.9,464 L689.5,464.5 L689.2,465 L688.8,465.4 L688.4,465.9 L688,466.4 L687.6,466.9 L687.2,467.4 L686.8,467.9 L686.5,468.5 L686.1,469 L685.7,469.5 L685.3,470 L684.9,470.5 L684.6,471 L684.2,471.5 L683.8,472.1 L683.4,472.6 L683.1,473.1 L682.7,473.7 L682.3,474.2 L682,474.7 L681.6,475.3 L681.2,475.8 L680.9,476.3 L680.5,476.9 L680.1,477.4 L679.8,478 L679.4,478.5 L679.1,479.1 L678.7,479.6 L678.3,480.2 L678,480.8 L677.6,481.3 L677.3,481.9 L681.7,485.1 L682.1,484.6 L682.6,484.1 L683,483.6 L683.4,483.2 L683.8,482.7 L684.2,482.2 L684.7,481.7 L685.1,481.2 L685.5,480.8 L685.9,480.3 L686.4,479.8 L686.8,479.4 L687.2,478.9 L687.6,478.5 L688.1,478 L688.5,477.5 L688.9,477.1 L689.3,476.7 L689.8,476.2 L690.2,475.8 L690.6,475.3 L691.1,474.9 L691.5,474.5 L691.9,474 L692.4,473.6 L692.8,473.2 L693.2,472.8 L693.7,472.4 L694.1,471.9 L694.5,471.5 L695,471.1 L695.4,470.7 L695.8,470.3 L696.3,469.9 L696.7,469.5 L697.2,469.1 L697.6,468.7 L698,468.3 L698.5,468 L698.9,467.6 L699.3,467.2 L699.8,466.8 L700.2,466.4 L700.7,466.1 L701.1,465.7 L701.6,465.3 L702,465 L702.5,464.6Z"/><path fill="#4E1861" d="M509.2,604 L510.9,606 L512.4,608 L514.1,610.1 L515.9,612.3 L518.1,614.7 L520.7,617.1 L523.7,619.7 L527,622.3 L530.6,625.1 L534.3,627.8 L538.1,630.3 L541.7,632.6 L545.3,634.7 L548.8,636.6 L552.4,638.4 L556,640 L559.6,641.5 L563.2,642.9 L566.9,644 L570.8,645 L574.6,645.9 L578.2,646.6 L581.6,647.1 L584.7,647.6 L587.5,648 L590.1,648.3 L592.5,648.4 L594.8,648.5 L597,648.4 L599.2,648.4 L601.3,648.3 L603.3,648.2 L605.3,648 L607.5,647.7 L609.9,647.2 L612.8,646.6 L616.1,645.8 L619.8,644.8 L623.8,643.6 L628,642.4 L632.2,641.1 L636.2,639.7 L640.2,638.3 L644.2,636.8 L648.1,635.2 L652,633.6 L655.7,632 L659.2,630.7 L662.6,629.3 L665.8,628 L668.8,626.8 L671.6,625.7 L674.3,624.8 L676.9,624.1 L679.4,623.6 L681.8,623.4 L684.2,623.3 L686.8,623.3 L689.4,623.2 L692.1,623.1 L691.9,614.9 L689.3,614.9 L686.8,614.9 L684.1,614.9 L681.3,615 L678.3,615.2 L675.1,615.7 L671.9,616.5 L668.8,617.5 L665.7,618.6 L662.5,619.8 L659.3,621 L656,622.3 L652.4,623.6 L648.6,625.1 L644.7,626.6 L640.8,628.1 L636.9,629.5 L633.2,630.8 L629.3,632.1 L625.3,633.3 L621.2,634.4 L617.3,635.5 L613.7,636.4 L610.6,637.2 L608,637.8 L605.9,638.1 L604.2,638.4 L602.6,638.5 L600.8,638.6 L598.9,638.7 L596.8,638.8 L594.9,638.8 L592.9,638.7 L590.9,638.6 L588.7,638.4 L586.1,638.1 L583.1,637.6 L579.9,637.1 L576.4,636.5 L573,635.7 L569.5,634.9 L566.2,633.9 L562.9,632.7 L559.7,631.4 L556.4,630 L553,628.4 L549.7,626.7 L546.4,624.8 L543,622.7 L539.4,620.4 L535.8,617.9 L532.3,615.4 L529.1,612.9 L526.4,610.6 L524.1,608.6 L522.2,606.7 L520.6,604.8 L519,602.8 L517.3,600.7 L515.4,598.6Z"/><path fill="#4E1861" d="M691.6,611.9 L690.5,611.6 L689.4,611.3 L688.3,611 L687.2,610.8 L686.1,610.5 L685,610.2 L683.9,610 L682.9,609.7 L681.8,609.5 L680.8,609.2 L679.8,608.9 L678.7,608.7 L677.7,608.4 L676.7,608.2 L675.7,608 L674.7,607.7 L673.8,607.5 L672.8,607.3 L671.8,607 L670.9,606.8 L669.9,606.6 L669,606.4 L668.1,606.2 L667.2,605.9 L666.2,605.7 L665.3,605.5 L664.5,605.3 L663.6,605.1 L662.7,604.9 L661.8,604.7 L661,604.5 L660.1,604.3 L659.3,604.2 L658.5,604 L657.7,603.8 L656.8,603.6 L656,603.4 L655.3,603.3 L654.5,603.1 L653.7,602.9 L652.9,602.8 L652.2,602.6 L651.4,602.5 L650.7,602.3 L650,602.2 L649.2,602 L648.5,601.9 L647.8,601.7 L646.2,607.7 L646.8,607.9 L647.5,608.2 L648.2,608.4 L648.9,608.6 L649.6,608.9 L650.3,609.2 L651.1,609.4 L651.8,609.7 L652.5,609.9 L653.3,610.2 L654,610.5 L654.8,610.8 L655.6,611 L656.4,611.3 L657.2,611.6 L658,611.9 L658.8,612.2 L659.6,612.5 L660.4,612.8 L661.3,613 L662.1,613.4 L663,613.7 L663.9,614 L664.7,614.3 L665.6,614.6 L666.5,614.9 L667.4,615.2 L668.3,615.5 L669.2,615.9 L670.2,616.2 L671.1,616.5 L672,616.9 L673,617.2 L674,617.5 L674.9,617.9 L675.9,618.2 L676.9,618.6 L677.9,618.9 L678.9,619.3 L679.9,619.6 L681,620 L682,620.4 L683,620.7 L684.1,621.1 L685.1,621.5 L686.2,621.8 L687.3,622.2 L688.4,622.6Z"/><path fill="#4E1861" d="M686.4,617.2 L686,617.7 L685.6,618.1 L685.1,618.6 L684.7,619.1 L684.3,619.6 L683.9,620 L683.5,620.5 L683.1,621 L682.8,621.5 L682.4,622 L682,622.5 L681.6,623 L681.2,623.5 L680.8,624 L680.4,624.5 L680,625 L679.6,625.5 L679.3,626 L678.9,626.5 L678.5,627 L678.1,627.6 L677.7,628.1 L677.3,628.6 L677,629.1 L676.6,629.6 L676.2,630.2 L675.9,630.7 L675.5,631.2 L675.1,631.8 L674.7,632.3 L674.4,632.9 L674,633.4 L673.6,633.9 L673.3,634.5 L672.9,635 L672.6,635.6 L672.2,636.1 L671.8,636.7 L671.5,637.3 L671.1,637.8 L670.8,638.4 L670.4,639 L670.1,639.5 L669.7,640.1 L669.3,640.7 L669,641.2 L668.7,641.8 L668.3,642.4 L672.9,645.6 L673.3,645.1 L673.7,644.6 L674.1,644.1 L674.6,643.6 L675,643.1 L675.4,642.6 L675.8,642.1 L676.2,641.6 L676.7,641.1 L677.1,640.6 L677.5,640.2 L677.9,639.7 L678.3,639.2 L678.8,638.7 L679.2,638.3 L679.6,637.8 L680,637.3 L680.5,636.9 L680.9,636.4 L681.3,636 L681.7,635.5 L682.2,635.1 L682.6,634.6 L683,634.2 L683.5,633.7 L683.9,633.3 L684.3,632.9 L684.8,632.4 L685.2,632 L685.6,631.6 L686.1,631.2 L686.5,630.7 L686.9,630.3 L687.4,629.9 L687.8,629.5 L688.2,629.1 L688.7,628.7 L689.1,628.3 L689.5,627.9 L690,627.5 L690.4,627.1 L690.9,626.7 L691.3,626.3 L691.7,625.9 L692.2,625.5 L692.6,625.2 L693.1,624.8 L693.5,624.4Z"/><path fill="#CB176F" d="M77,74.5 A13,13 0 0 1 90,61.5 L269.5,61.5 A10,10 0 0 1 279.5,71.5 L265.5,149.5 L77,149.5 Z"/><rect fill="#FFD95A" x="61" y="70" width="203" height="87.5" rx="12"/><path fill="#CB176F" d="M38.5,236.5 A13,13 0 0 1 51.5,223.5 L234,223.5 A10,10 0 0 1 244,233.5 L230.2,313 L38.5,313 Z"/><rect fill="#FFD95A" x="22.5" y="232" width="206.2" height="89" rx="12"/><path fill="#CB176F" d="M120,430.7 A13,13 0 0 1 133,417.7 L308,417.7 A10,10 0 0 1 318,427.7 L305,504.5 L120,504.5 Z"/><rect fill="#FFD95A" x="104" y="426.2" width="199.5" height="86.3" rx="12"/><path fill="#CB176F" d="M177.3,574.9 A13,13 0 0 1 190.3,561.9 L351.3,561.9 A10,10 0 0 1 361.3,571.9 L349.1,642.5 L177.3,642.5 Z"/><rect fill="#FFD95A" x="161.3" y="570.4" width="186.3" height="80.1" rx="12"/><path fill="#CB176F" d="M705.7,95.2 A13,13 0 0 1 718.7,82.2 L891.4,82.2 A10,10 0 0 1 901.4,92.2 L888.3,167.6 L705.7,167.6 Z"/><rect fill="#FFD95A" x="689.7" y="90.7" width="197.1" height="84.9" rx="12"/><path fill="#CB176F" d="M771.3,225.7 A13,13 0 0 1 784.3,212.7 L964.2,212.7 A10,10 0 0 1 974.2,222.7 L960.3,300.8 L771.3,300.8 Z"/><rect fill="#FFD95A" x="755.3" y="221.2" width="203.5" height="87.6" rx="12"/><path fill="#CB176F" d="M720.4,405.2 A13,13 0 0 1 733.4,392.2 L928.7,392.2 A10,10 0 0 1 938.7,402.2 L924.3,487.4 L720.4,487.4 Z"/><rect fill="#FFD95A" x="704.4" y="400.7" width="218.4" height="94.7" rx="12"/><path fill="#CB176F" d="M707.8,575.7 A13,13 0 0 1 720.8,562.7 L915.8,562.7 A10,10 0 0 1 925.8,572.7 L910.4,657.4 L707.8,657.4 Z"/><rect fill="#FFD95A" x="691.8" y="571.2" width="217.1" height="94.2" rx="12"/><g transform="translate(43.6,159.7) rotate(-31) scale(1.0)"><path fill="#FFD95A" d="M0,-7 Q12,-8.5 28.9,-16.8 L28.9,16.8 Q13,9.5 0,7.5 Z"/><path fill="#CB176F" d="M1.2,7.3 L8,8.4 L9.6,18.2 Q6.5,19.8 3.3,18 Z"/><path fill="#CB176F" d="M1.2,-7.2 L1.2,7.2 Q-3,8 -3.8,2 L-3.8,-2 Q-3,-8 1.2,-7.2 Z"/><ellipse fill="#CB176F" cx="28.9" cy="0" rx="4.2" ry="16.8"/><g stroke="#CB176F" stroke-width="2.1"><line x1="36.3" y1="-8.6" x2="51.9" y2="-16.9"/><line x1="37.2" y1="0.4" x2="55.3" y2="0.4"/><line x1="35.6" y1="10.7" x2="50.5" y2="20.9"/></g></g><g transform="translate(5.3,323.1) rotate(-31) scale(1.065)"><path fill="#FFD95A" d="M0,-7 Q12,-8.5 28.9,-16.8 L28.9,16.8 Q13,9.5 0,7.5 Z"/><path fill="#CB176F" d="M1.2,7.3 L8,8.4 L9.6,18.2 Q6.5,19.8 3.3,18 Z"/><path fill="#CB176F" d="M1.2,-7.2 L1.2,7.2 Q-3,8 -3.8,2 L-3.8,-2 Q-3,-8 1.2,-7.2 Z"/><ellipse fill="#CB176F" cx="28.9" cy="0" rx="4.2" ry="16.8"/><g stroke="#CB176F" stroke-width="2.1"><line x1="36.3" y1="-8.6" x2="51.9" y2="-16.9"/><line x1="37.2" y1="0.4" x2="55.3" y2="0.4"/><line x1="35.6" y1="10.7" x2="50.5" y2="20.9"/></g></g><g transform="translate(86.2,514.5) rotate(-31) scale(1.03)"><path fill="#FFD95A" d="M0,-7 Q12,-8.5 28.9,-16.8 L28.9,16.8 Q13,9.5 0,7.5 Z"/><path fill="#CB176F" d="M1.2,7.3 L8,8.4 L9.6,18.2 Q6.5,19.8 3.3,18 Z"/><path fill="#CB176F" d="M1.2,-7.2 L1.2,7.2 Q-3,8 -3.8,2 L-3.8,-2 Q-3,-8 1.2,-7.2 Z"/><ellipse fill="#CB176F" cx="28.9" cy="0" rx="4.2" ry="16.8"/><g stroke="#CB176F" stroke-width="2.1"><line x1="36.3" y1="-8.6" x2="51.9" y2="-16.9"/><line x1="37.2" y1="0.4" x2="55.3" y2="0.4"/><line x1="35.6" y1="10.7" x2="50.5" y2="20.9"/></g></g><g transform="translate(145.5,652.5) rotate(-31) scale(0.97)"><path fill="#FFD95A" d="M0,-7 Q12,-8.5 28.9,-16.8 L28.9,16.8 Q13,9.5 0,7.5 Z"/><path fill="#CB176F" d="M1.2,7.3 L8,8.4 L9.6,18.2 Q6.5,19.8 3.3,18 Z"/><path fill="#CB176F" d="M1.2,-7.2 L1.2,7.2 Q-3,8 -3.8,2 L-3.8,-2 Q-3,-8 1.2,-7.2 Z"/><ellipse fill="#CB176F" cx="28.9" cy="0" rx="4.2" ry="16.8"/><g stroke="#CB176F" stroke-width="2.1"><line x1="36.3" y1="-8.6" x2="51.9" y2="-16.9"/><line x1="37.2" y1="0.4" x2="55.3" y2="0.4"/><line x1="35.6" y1="10.7" x2="50.5" y2="20.9"/></g></g><g transform="translate(671.9,177.6) rotate(-31) scale(1.0)"><path fill="#FFD95A" d="M0,-7 Q12,-8.5 28.9,-16.8 L28.9,16.8 Q13,9.5 0,7.5 Z"/><path fill="#CB176F" d="M1.2,7.3 L8,8.4 L9.6,18.2 Q6.5,19.8 3.3,18 Z"/><path fill="#CB176F" d="M1.2,-7.2 L1.2,7.2 Q-3,8 -3.8,2 L-3.8,-2 Q-3,-8 1.2,-7.2 Z"/><ellipse fill="#CB176F" cx="28.9" cy="0" rx="4.2" ry="16.8"/><g stroke="#CB176F" stroke-width="2.1"><line x1="36.3" y1="-8.6" x2="51.9" y2="-16.9"/><line x1="37.2" y1="0.4" x2="55.3" y2="0.4"/><line x1="35.6" y1="10.7" x2="50.5" y2="20.9"/></g></g><g transform="translate(737.5,310.8) rotate(-31) scale(1.03)"><path fill="#FFD95A" d="M0,-7 Q12,-8.5 28.9,-16.8 L28.9,16.8 Q13,9.5 0,7.5 Z"/><path fill="#CB176F" d="M1.2,7.3 L8,8.4 L9.6,18.2 Q6.5,19.8 3.3,18 Z"/><path fill="#CB176F" d="M1.2,-7.2 L1.2,7.2 Q-3,8 -3.8,2 L-3.8,-2 Q-3,-8 1.2,-7.2 Z"/><ellipse fill="#CB176F" cx="28.9" cy="0" rx="4.2" ry="16.8"/><g stroke="#CB176F" stroke-width="2.1"><line x1="36.3" y1="-8.6" x2="51.9" y2="-16.9"/><line x1="37.2" y1="0.4" x2="55.3" y2="0.4"/><line x1="35.6" y1="10.7" x2="50.5" y2="20.9"/></g></g><g transform="translate(685.8,497.1) rotate(-31) scale(1.1)"><path fill="#FFD95A" d="M0,-7 Q12,-8.5 28.9,-16.8 L28.9,16.8 Q13,9.5 0,7.5 Z"/><path fill="#CB176F" d="M1.2,7.3 L8,8.4 L9.6,18.2 Q6.5,19.8 3.3,18 Z"/><path fill="#CB176F" d="M1.2,-7.2 L1.2,7.2 Q-3,8 -3.8,2 L-3.8,-2 Q-3,-8 1.2,-7.2 Z"/><ellipse fill="#CB176F" cx="28.9" cy="0" rx="4.2" ry="16.8"/><g stroke="#CB176F" stroke-width="2.1"><line x1="36.3" y1="-8.6" x2="51.9" y2="-16.9"/><line x1="37.2" y1="0.4" x2="55.3" y2="0.4"/><line x1="35.6" y1="10.7" x2="50.5" y2="20.9"/></g></g><g transform="translate(674,667.4) rotate(-31) scale(1.1)"><path fill="#FFD95A" d="M0,-7 Q12,-8.5 28.9,-16.8 L28.9,16.8 Q13,9.5 0,7.5 Z"/><path fill="#CB176F" d="M1.2,7.3 L8,8.4 L9.6,18.2 Q6.5,19.8 3.3,18 Z"/><path fill="#CB176F" d="M1.2,-7.2 L1.2,7.2 Q-3,8 -3.8,2 L-3.8,-2 Q-3,-8 1.2,-7.2 Z"/><ellipse fill="#CB176F" cx="28.9" cy="0" rx="4.2" ry="16.8"/><g stroke="#CB176F" stroke-width="2.1"><line x1="36.3" y1="-8.6" x2="51.9" y2="-16.9"/><line x1="37.2" y1="0.4" x2="55.3" y2="0.4"/><line x1="35.6" y1="10.7" x2="50.5" y2="20.9"/></g></g>
<text x="68.00" y="113.2" font-size="21.77" textLength="190.00" lengthAdjust="spacing">Define Your Brand</text><text x="37.00" y="265.8" font-size="21.35" textLength="179.50" lengthAdjust="spacing">Define short-term</text><text x="55.50" y="287.3" font-size="21.35" textLength="144.50" lengthAdjust="spacing">and long-term</text><text x="62.50" y="308.4" font-size="21.35" textLength="129.50" lengthAdjust="spacing">career goals</text><text x="135.25" y="458.3" font-size="19.95" textLength="139.75" lengthAdjust="spacing">Build a Strong</text><text x="124.00" y="479.4" font-size="19.95" textLength="161.00" lengthAdjust="spacing">Online Presence</text><text x="190.50" y="605" font-size="23.86" textLength="148.50" lengthAdjust="spacing">Develop Soft</text><text x="234.00" y="630.5" font-size="23.86" textLength="62.00" lengthAdjust="spacing">Skills</text><text x="736.00" y="132.6" font-size="19.95" textLength="109.00" lengthAdjust="spacing">Continuous</text><text x="748.50" y="153" font-size="19.95" textLength="85.00" lengthAdjust="spacing">Learning</text><text x="796.50" y="251" font-size="20.93" textLength="143.50" lengthAdjust="spacing">Build a Strong</text><text x="825.00" y="273" font-size="20.93" textLength="84.50" lengthAdjust="spacing">Network</text><text x="745.00" y="436.4" font-size="21.49" textLength="139.50" lengthAdjust="spacing">Demonstrate</text><text x="728.00" y="459.7" font-size="21.49" textLength="173.00" lengthAdjust="spacing">Professionalism</text><text x="725.00" y="619.2" font-size="22.05" textLength="158.50" lengthAdjust="spacing">Stay Authentic</text><text x="139.00" y="714" font-size="22.60" textLength="599.00" lengthAdjust="spacing">Accelerating Growth: Your Talent Management Partner</text>
</svg>
</body></html>
